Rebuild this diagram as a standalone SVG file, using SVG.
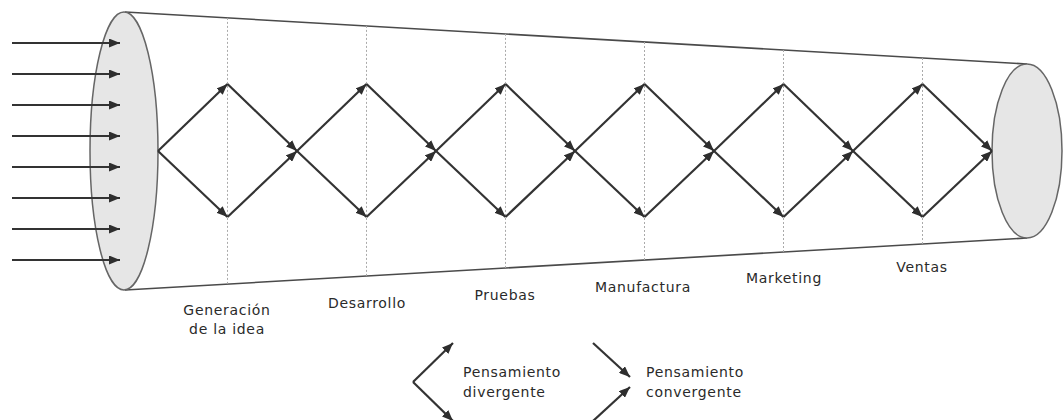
<svg xmlns="http://www.w3.org/2000/svg" width="1064" height="420" viewBox="0 0 1064 420">
  <defs>
    <marker id="arrow" viewBox="0 0 11 9" refX="11" refY="4.5" markerWidth="11" markerHeight="9" markerUnits="userSpaceOnUse" orient="auto">
      <path d="M0,0 L11,4.5 L0,9 Z" fill="#2e2e2e"/>
    </marker>
    <style>
      .bg { fill: #ffffff; }
      .cone { fill: none; stroke: #4a4a4a; stroke-width: 1.6; }
      .disc { fill: #e6e6e6; stroke: #666; stroke-width: 1.5; }
      .stage { stroke: #aaa; stroke-width: 1; stroke-dasharray: 2 2; fill: none; }
      .flow { fill: none; stroke: #333; stroke-width: 2.2; marker-end: url(#arrow); }
      .label { font-family: "DejaVu Sans", "Liberation Sans", sans-serif; font-size: 14px; fill: #2a2a2a; letter-spacing: 0.7px; text-anchor: middle; }
      .legend { font-family: "DejaVu Sans", "Liberation Sans", sans-serif; font-size: 14px; fill: #2a2a2a; letter-spacing: 0.7px; }
    </style>
  </defs>

  <rect class="bg" x="0" y="0" width="1064" height="420"/>

  <!-- funnel body -->
  <g id="funnel">
    <line class="cone" x1="125" y1="12" x2="1027" y2="64"/>
    <line class="cone" x1="125" y1="290" x2="1027" y2="238"/>
    <ellipse id="outlet" class="disc" cx="1027" cy="151" rx="35" ry="87"/>
  </g>

  <!-- stage separators -->
  <g id="stages">
    <line class="stage" x1="227.5" y1="17.9" x2="227.5" y2="284.1"/>
    <line class="stage" x1="366.5" y1="25.9" x2="366.5" y2="276.1"/>
    <line class="stage" x1="505.5" y1="33.9" x2="505.5" y2="268.1"/>
    <line class="stage" x1="644.5" y1="42" x2="644.5" y2="260"/>
    <line class="stage" x1="783.5" y1="50" x2="783.5" y2="252"/>
    <line class="stage" x1="922.5" y1="58" x2="922.5" y2="244"/>
  </g>

  <g id="inlet">
    <ellipse class="disc" cx="124" cy="151" rx="34" ry="139"/>
  </g>

  <!-- connectors -->
  <g id="connectors">
    <!-- incoming ideas -->
    <line class="flow" x1="12" y1="43" x2="120" y2="43"/>
    <line class="flow" x1="12" y1="74" x2="120" y2="74"/>
    <line class="flow" x1="12" y1="105" x2="120" y2="105"/>
    <line class="flow" x1="12" y1="136" x2="120" y2="136"/>
    <line class="flow" x1="12" y1="167" x2="120" y2="167"/>
    <line class="flow" x1="12" y1="198" x2="120" y2="198"/>
    <line class="flow" x1="12" y1="229" x2="120" y2="229"/>
    <line class="flow" x1="12" y1="260" x2="120" y2="260"/>

    <!-- diamond 1 -->
    <line class="flow" x1="158" y1="151" x2="227.5" y2="84"/>
    <line class="flow" x1="158" y1="151" x2="227.5" y2="217"/>
    <line class="flow" x1="227.5" y1="84" x2="297" y2="151"/>
    <line class="flow" x1="227.5" y1="217" x2="297" y2="151"/>
    <!-- diamond 2 -->
    <line class="flow" x1="297" y1="151" x2="366.5" y2="84"/>
    <line class="flow" x1="297" y1="151" x2="366.5" y2="217"/>
    <line class="flow" x1="366.5" y1="84" x2="436" y2="151"/>
    <line class="flow" x1="366.5" y1="217" x2="436" y2="151"/>
    <!-- diamond 3 -->
    <line class="flow" x1="436" y1="151" x2="505.5" y2="84"/>
    <line class="flow" x1="436" y1="151" x2="505.5" y2="217"/>
    <line class="flow" x1="505.5" y1="84" x2="575" y2="151"/>
    <line class="flow" x1="505.5" y1="217" x2="575" y2="151"/>
    <!-- diamond 4 -->
    <line class="flow" x1="575" y1="151" x2="644.5" y2="84"/>
    <line class="flow" x1="575" y1="151" x2="644.5" y2="217"/>
    <line class="flow" x1="644.5" y1="84" x2="714" y2="151"/>
    <line class="flow" x1="644.5" y1="217" x2="714" y2="151"/>
    <!-- diamond 5 -->
    <line class="flow" x1="714" y1="151" x2="783.5" y2="84"/>
    <line class="flow" x1="714" y1="151" x2="783.5" y2="217"/>
    <line class="flow" x1="783.5" y1="84" x2="853" y2="151"/>
    <line class="flow" x1="783.5" y1="217" x2="853" y2="151"/>
    <!-- diamond 6 -->
    <line class="flow" x1="853" y1="151" x2="922.5" y2="84"/>
    <line class="flow" x1="853" y1="151" x2="922.5" y2="217"/>
    <line class="flow" x1="922.5" y1="84" x2="992" y2="151"/>
    <line class="flow" x1="922.5" y1="217" x2="992" y2="151"/>

    <!-- legend symbols -->
    <line class="flow" x1="413" y1="382" x2="453" y2="343"/>
    <line class="flow" x1="413" y1="382" x2="453" y2="421"/>
    <line class="flow" x1="593" y1="343" x2="630" y2="377"/>
    <line class="flow" x1="593" y1="421" x2="630" y2="387"/>
  </g>

  <!-- stage labels -->
  <g id="label-generacion">
    <text class="label" x="227" y="315">Generación</text>
    <text class="label" x="227" y="334">de la idea</text>
  </g>
  <g id="label-desarrollo"><text class="label" x="367" y="308">Desarrollo</text></g>
  <g id="label-pruebas"><text class="label" x="505" y="300">Pruebas</text></g>
  <g id="label-manufactura"><text class="label" x="643" y="292">Manufactura</text></g>
  <g id="label-marketing"><text class="label" x="784" y="283">Marketing</text></g>
  <g id="label-ventas"><text class="label" x="922" y="272">Ventas</text></g>

  <!-- legend -->
  <g id="legend-divergente">
    <text class="legend" x="463" y="377">Pensamiento</text>
    <text class="legend" x="463" y="397">divergente</text>
  </g>
  <g id="legend-convergente">
    <text class="legend" x="646" y="377">Pensamiento</text>
    <text class="legend" x="646" y="397">convergente</text>
  </g>
</svg>
